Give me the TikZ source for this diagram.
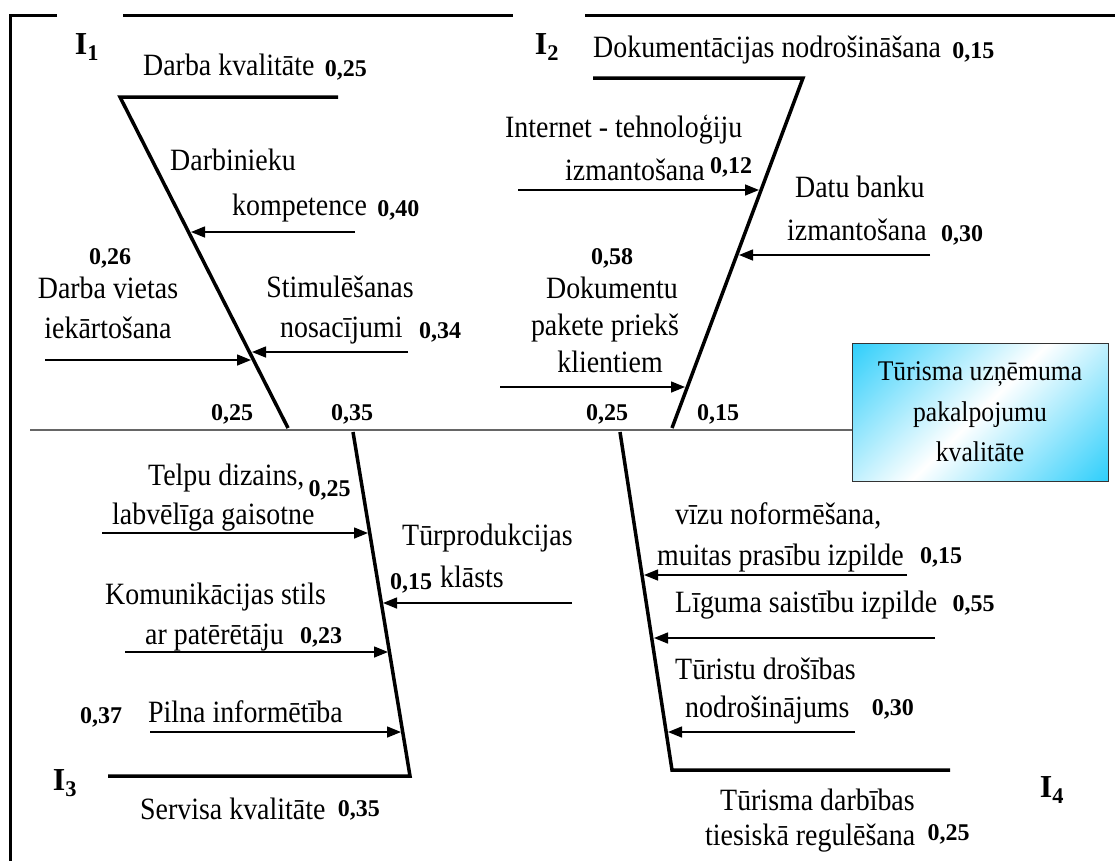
\documentclass[tikz,border=0pt]{standalone}
\usepackage{fontspec}
\setmainfont{Liberation Serif}[FakeStretch=0.9]
\newfontfamily\numf{Liberation Serif}
\usetikzlibrary{arrows.meta,calc}
\definecolor{cy}{RGB}{20,200,250}
\pgfdeclareverticalshading{boxsh}{100bp}{color(0bp)=(cy); color(10bp)=(cy); color(50bp)=(white); color(90bp)=(cy); color(100bp)=(cy)}
\begin{document}
\begin{tikzpicture}[x=1pt,y=-1pt,
  txt/.style={font=\fontsize{31}{36}\selectfont, inner sep=0pt, text height=21pt, text depth=7pt},
  num/.style={font=\numf\bfseries\fontsize{24}{28}\selectfont, inner sep=0pt, text height=16pt, text depth=0pt},
  ilab/.style={font=\numf\bfseries\fontsize{32}{36}\selectfont, inner sep=0pt},
  bone/.style={line width=3.5pt, line join=miter},
  frm/.style={line width=3pt},
  arr/.style={line width=1.5pt, -{Triangle[length=14pt,width=11pt]}},
  spn/.style={line width=2pt, draw=black!60}
]
\useasboundingbox (0,0) rectangle (1115,860);
% frame
\coordinate (f1) at (57,15); \coordinate (f2) at (10,15); \coordinate (f3) at (10,862);
\coordinate (f4) at (123,15); \coordinate (f5) at (513,15);
\coordinate (f6) at (585,15); \coordinate (f7) at (1117,15);
\draw[frm] (f1) -- (f2) -- (f3);
\draw[frm] (f4) -- (f5);
\draw[frm] (f6) -- (f7);
% goal box
\node[draw=black!80, line width=1pt, shade, shading=boxsh, shading angle=45,
  minimum width=256pt, minimum height=138pt, inner sep=0pt, align=center,
  font=\fontsize{28.5}{40.5}\selectfont] (goal) at (980,412) {Tūrisma uzņēmuma\\pakalpojumu\\kvalitāte};
% spine
\coordinate (sp0) at (30,430);
\draw[spn] (sp0) -- (sp0 -| goal.west);
% bones
\coordinate (b1a) at (338,97); \coordinate (b1b) at (120,97); \coordinate (b1c) at (288,428);
\draw[bone] (b1a) -- (b1b) -- (b1c);
\coordinate (b2a) at (593,78); \coordinate (b2b) at (803,78); \coordinate (b2c) at (672,428);
\draw[bone] (b2a) -- (b2b) -- (b2c);
\coordinate (b3a) at (353,432); \coordinate (b3b) at (410,776); \coordinate (b3c) at (108,776);
\draw[bone] (b3a) -- (b3b) -- (b3c);
\coordinate (b4a) at (620,432); \coordinate (b4b) at (672,770); \coordinate (b4c) at (950,770);
\draw[bone] (b4a) -- (b4b) -- (b4c);
% spine values
\node[num] (s1) at (232,412) {0,25};
\node[num] (s2) at (352,412) {0,35};
\node[num] (s3) at (607,412) {0,25};
\node[num] (s4) at (718,412) {0,15};
% I1
\node[ilab] (i1) at (87,47) {I\textsubscript{1}};
\node[txt,anchor=west] (t1) at (143,68) {Darba kvalitāte};
\node[num,anchor=west] (v1) at ([xshift=10pt]t1.east) {0,25};
\node[txt] (t2) at (233,163) {Darbinieku};
\node[txt,anchor=west] (t3) at (232,208) {kompetence};
\node[num,anchor=west] (v2) at ([xshift=10pt]t3.east) {0,40};
\node[num] (v3) at (110,256) {0,26};
\node[txt] (t4) at (108,291) {Darba vietas};
\node[txt] (t5) at (108,331) {iekārtošana};
\node[txt] (t6) at (340,290) {Stimulēšanas};
\node[txt,anchor=west] (t7) at (280,330) {nosacījumi};
\node[num,anchor=west] (v4) at ([xshift=16pt]t7.east) {0,34};
\coordinate (a1s) at (355,232); \coordinate (a1e) at (191,232);
\coordinate (a2s) at (45,360); \coordinate (a2e) at (251,360);
\coordinate (a3s) at (408,352); \coordinate (a3e) at (252,352);
\draw[arr] (a1s) -- (a1e);
\draw[arr] (a2s) -- (a2e);
\draw[arr] (a3s) -- (a3e);
% I2
\node[ilab] (i2) at (547,47) {I\textsubscript{2}};
\node[txt,anchor=west] (t8) at (593,50) {Dokumentācijas nodrošināšana};
\node[num,anchor=west] (v5) at ([xshift=11pt]t8.east) {0,15};
\node[txt,anchor=west] (t9) at (505,130) {Internet - tehnoloģiju};
\node[txt,anchor=west] (t10) at (565,173) {izmantošana};
\node[num,anchor=west] (v6) at ([xshift=5pt,yshift=8pt]t10.east) {0,12};
\node[txt,anchor=west] (t11) at (795,190) {Datu banku};
\node[txt,anchor=west] (t12) at (787,233) {izmantošana};
\node[num,anchor=west] (v7) at ([xshift=14pt]t12.east) {0,30};
\node[num] (v8) at (612,256) {0,58};
\node[txt] (t13) at (612,291) {Dokumentu};
\node[txt] (t14) at (605,328) {pakete priekš};
\node[txt] (t15) at (610,365) {klientiem};
\coordinate (a4s) at (518,190); \coordinate (a4e) at (759,190);
\coordinate (a5s) at (930,255); \coordinate (a5e) at (739,255);
\coordinate (a6s) at (500,387); \coordinate (a6e) at (685,387);
\draw[arr] (a4s) -- (a4e);
\draw[arr] (a5s) -- (a5e);
\draw[arr] (a6s) -- (a6e);
% I3
\node[txt,anchor=west] (t16) at (148,478) {Telpu dizains,};
\node[num,anchor=west] (v9) at ([xshift=4pt,yshift=-10pt]t16.east) {0,25};
\node[txt,anchor=west] (t17) at (112,517) {labvēlīga gaisotne};
\node[txt,anchor=west] (t18) at (402,538) {Tūrprodukcijas};
\node[num,anchor=west] (v10) at (390,581) {0,15};
\node[txt,anchor=west] (t19) at (440,580) {klāsts};
\node[txt,anchor=west] (t20) at (105,597) {Komunikācijas stils};
\node[txt,anchor=west] (t21) at (145,637) {ar patērētāju};
\node[num,anchor=west] (v11) at ([xshift=16pt,yshift=2pt]t21.east) {0,23};
\node[num,anchor=west] (v12) at (80,715) {0,37};
\node[txt,anchor=west] (t22) at (148,715) {Pilna informētība};
\node[ilab] (i3) at (65,783) {I\textsubscript{3}};
\node[txt,anchor=west] (t23) at (140,812) {Servisa kvalitāte};
\node[num,anchor=west] (v13) at ([xshift=12pt,yshift=4pt]t23.east) {0,35};
\coordinate (a7s) at (102,533); \coordinate (a7e) at (368,533);
\coordinate (a8s) at (572,603); \coordinate (a8e) at (383,603);
\coordinate (a9s) at (125,652); \coordinate (a9e) at (388,652);
\coordinate (a10s) at (150,732); \coordinate (a10e) at (401,732);
\draw[arr] (a7s) -- (a7e);
\draw[arr] (a8s) -- (a8e);
\draw[arr] (a9s) -- (a9e);
\draw[arr] (a10s) -- (a10e);
% I4
\node[txt,anchor=west] (t24) at (675,517) {vīzu noformēšana,};
\node[txt,anchor=west] (t25) at (657,558) {muitas prasību izpilde};
\node[num,anchor=west] (v14) at ([xshift=16pt,yshift=3pt]t25.east) {0,15};
\node[txt,anchor=west] (t26) at (675,605) {Līguma saistību izpilde};
\node[num,anchor=west] (v15) at ([xshift=15pt,yshift=2pt]t26.east) {0,55};
\node[txt,anchor=west] (t27) at (675,672) {Tūristu drošības};
\node[txt,anchor=west] (t28) at (685,710) {nodrošinājums};
\node[num,anchor=west] (v16) at ([xshift=22pt,yshift=3pt]t28.east) {0,30};
\node[txt,anchor=west] (t29) at (720,803) {Tūrisma darbības};
\node[txt,anchor=west] (t30) at (705,838) {tiesiskā regulēšana};
\node[num,anchor=west] (v17) at ([xshift=12pt,yshift=6pt]t30.east) {0,25};
\node[ilab] (i4) at (1052,790) {I\textsubscript{4}};
\coordinate (a11s) at (907,575); \coordinate (a11e) at (644,575);
\coordinate (a12s) at (935,638); \coordinate (a12e) at (654,638);
\coordinate (a13s) at (855,732); \coordinate (a13e) at (668,732);
\draw[arr] (a11s) -- (a11e);
\draw[arr] (a12s) -- (a12e);
\draw[arr] (a13s) -- (a13e);
\end{tikzpicture}
\end{document}
